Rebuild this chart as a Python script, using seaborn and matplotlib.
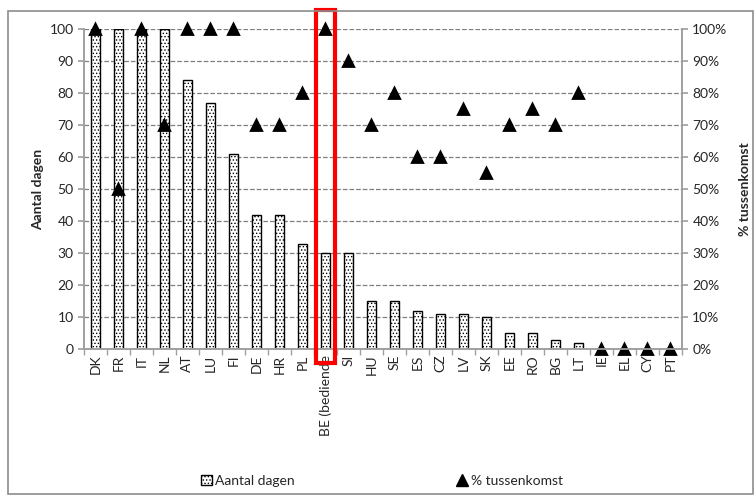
import numpy as np
import pandas as pd
import seaborn as sns
import matplotlib.pyplot as plt
from matplotlib.patches import Rectangle, Patch
from matplotlib.lines import Line2D
import matplotlib.transforms as mtransforms

countries = ['DK', 'FR', 'IT', 'NL', 'AT', 'LU', 'FI', 'DE', 'HR', 'PL', 'BE (bediende',
             'SI', 'HU', 'SE', 'ES', 'CZ', 'LV', 'SK', 'EE', 'RO', 'BG', 'LT',
             'IE', 'EL', 'CY', 'PT']
aantal_dagen = [100, 100, 100, 100, 84, 77, 61, 42, 42, 33, 30,
                30, 15, 15, 12, 11, 11, 10, 5, 5, 3, 2,
                0, 0, 0, 0]
pct_tussenkomst = [100, 50, 100, 70, 100, 100, 100, 70, 70, 80, 100,
                   90, 70, 80, 60, 60, 75, 55, 70, 75, 70, 80,
                   0, 0, 0, 0]
highlight = 'BE (bediende'

df = pd.DataFrame({'land': countries, 'dagen': aantal_dagen, 'pct': pct_tussenkomst})

sns.set_theme(style='white')
plt.rcParams['font.family'] = ['Lato', 'DejaVu Sans']
plt.rcParams['hatch.linewidth'] = 0.6
plt.rcParams['hatch.color'] = '#555555'

fig = plt.figure(figsize=(7.56, 4.96), dpi=100)
ax = fig.add_axes([0.111, 0.296, 0.791, 0.6455])

sns.barplot(data=df, x='land', y='dagen', ax=ax, width=0.4, color='white',
            edgecolor='black', linewidth=1.0, hatch='.....', saturation=1)
ax.set_ylim(0, 100)
ax.set_yticks(np.arange(0, 101, 10))
ax.yaxis.grid(True, linestyle='--', color='#7f7f7f', linewidth=0.9)
ax.set_axisbelow(True)
ax.set_xlim(-0.5, len(countries) - 0.5)
ax.set_xlabel('')
ax.set_ylabel('Aantal dagen', fontsize=10, fontweight='bold')
ax.tick_params(axis='x', length=0, labelrotation=90, labelsize=10, pad=4)
ax.set_xticks(np.arange(len(countries) + 1) - 0.5, minor=True)
ax.tick_params(axis='x', which='minor', length=4, color='#a0a0a0', direction='out', bottom=True)
ax.tick_params(axis='y', labelsize=10, length=4, color='#a0a0a0', left=True, direction='out')
for s in ['left', 'right', 'bottom']:
    ax.spines[s].set_color('#a0a0a0')
ax.spines['top'].set_visible(False)

ax2 = ax.twinx()
sns.pointplot(data=df, x='land', y='pct', ax=ax2, linestyle='none', markers='^',
              color='black', markersize=7)
for c in ax2.collections + ax2.lines:
    c.set_clip_on(False)
ax2.set_ylim(0, 100)
ax2.set_yticks(np.arange(0, 101, 10))
ax2.set_yticklabels([f'{v}%' for v in range(0, 101, 10)])
ax2.set_ylabel('% tussenkomst', fontsize=10, fontweight='bold', labelpad=8)
ax2.tick_params(axis='y', labelsize=10, length=4, color='#a0a0a0', right=True, direction='out')
ax2.set_xlim(-0.5, len(countries) - 0.5)
for s in ['left', 'right', 'bottom']:
    ax2.spines[s].set_color('#a0a0a0')
ax2.spines['top'].set_visible(False)

# red box round the Belgian column
i = countries.index(highlight)
trans = mtransforms.blended_transform_factory(ax.transData, ax.transAxes)
ax2.add_patch(Rectangle((i - 0.4, -0.044), 0.8, 1.103, transform=trans, fill=False,
                        edgecolor='red', linewidth=3, clip_on=False, zorder=10))

# outer frame
fig.add_artist(Rectangle((0.011, 0.004), 0.985, 0.974, transform=fig.transFigure,
                         fill=False, edgecolor='#8c8c8c', linewidth=1.2))

handles = [Patch(facecolor='white', edgecolor='black', hatch='.....', label='Aantal dagen'),
           Line2D([], [], marker='^', color='black', linestyle='none', markersize=8,
                  label='% tussenkomst')]
fig.legend(handles=handles, loc='center', bbox_to_anchor=(0.505, 0.03), ncol=2, frameon=False,
           fontsize=10, columnspacing=11.7, handlelength=0.8, handletextpad=0.2)

fig.savefig('out.png', dpi=100)
